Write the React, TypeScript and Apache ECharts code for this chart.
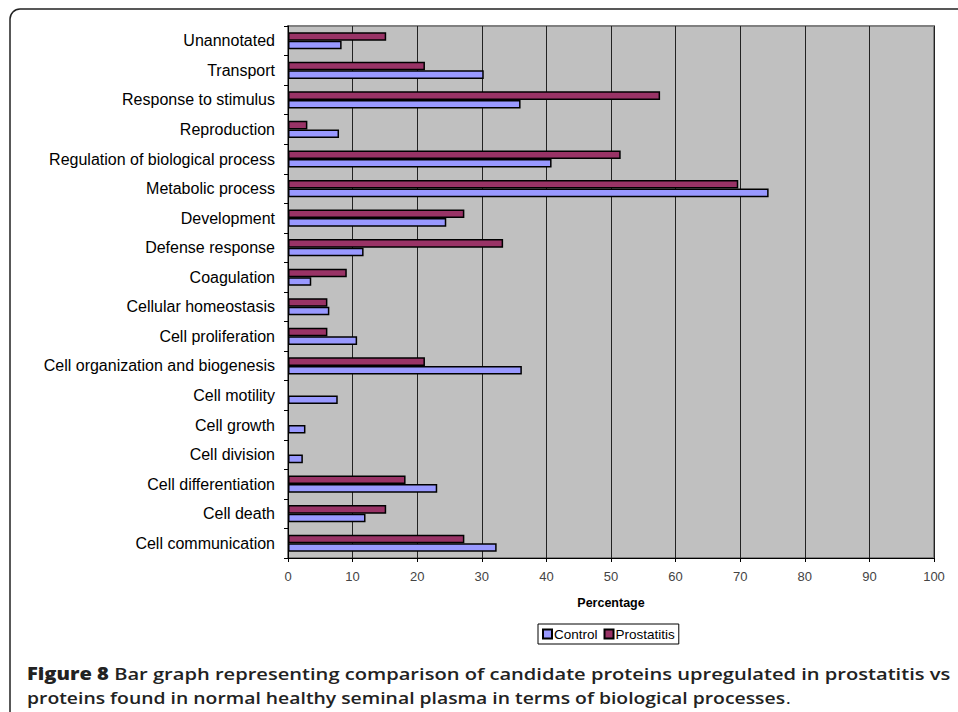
import React, { useEffect, useRef } from "react";
import * as echarts from "echarts";

const categories = [
  "Cell communication",
  "Cell death",
  "Cell differentiation",
  "Cell division",
  "Cell growth",
  "Cell motility",
  "Cell organization and biogenesis",
  "Cell proliferation",
  "Cellular homeostasis",
  "Coagulation",
  "Defense response",
  "Development",
  "Metabolic process",
  "Regulation of biological process",
  "Reproduction",
  "Response to stimulus",
  "Transport",
  "Unannotated",
];

const controlValues = [32.3, 12.0, 23.1, 2.3, 2.7, 7.7, 36.2, 10.7, 6.4, 3.6, 11.7, 24.5, 74.4, 40.8, 7.9, 36.0, 30.3, 8.3];
const prostatitisValues = [27.3, 15.2, 18.2, null, null, null, 21.2, 6.1, 6.1, 9.1, 33.3, 27.3, 69.7, 51.5, 3.0, 57.6, 21.2, 15.2];

const seriesNames = ["Control", "Prostatitis"];
const xTicks = { min: 0, max: 100, interval: 10 };
const axisTitle = "Percentage";
const captionBold = "Figure 8";
const captionLine1 = " Bar graph representing comparison of candidate proteins upregulated in prostatitis vs";
const captionLine2 = "proteins found in normal healthy seminal plasma in terms of biological processes";

export default function App() {
  const ref = useRef<HTMLDivElement>(null);
  useEffect(() => {
    if (!ref.current) return;
    const chart = echarts.init(ref.current, null, { renderer: "svg" });
    const font = "'Liberation Sans', Arial, sans-serif";
    const capFont = "'Open Sans', sans-serif";
    chart.setOption({
      animation: false,
      backgroundColor: "#ffffff",
      grid: {
        left: 288,
        right: 24,
        top: 26,
        bottom: 154,
        show: true,
        backgroundColor: "#c0c0c0",
        borderColor: "#808080",
        borderWidth: 2,
        containLabel: false,
      },
      legend: {
        data: seriesNames,
        left: 538,
        top: 624,
        itemWidth: 9,
        itemHeight: 9,
        itemGap: 6,
        padding: [3, 4, 3, 4],
        borderColor: "#000",
        borderWidth: 1,
        icon: "rect",
        textStyle: { fontFamily: font, fontSize: 13.5, color: "#000", padding: [0, 0, 0, -3] },
      },
      xAxis: {
        type: "value",
        min: xTicks.min,
        max: xTicks.max,
        interval: xTicks.interval,
        name: axisTitle,
        nameLocation: "middle",
        nameGap: 38,
        nameTextStyle: { fontFamily: font, fontSize: 12.5, fontWeight: "bold", color: "#000" },
        axisLine: { show: true, lineStyle: { color: "#000", width: 1 } },
        axisTick: { show: true, length: 4, lineStyle: { color: "#000" } },
        axisLabel: { fontFamily: font, fontSize: 13, color: "#444", margin: 12 },
        splitLine: { show: true, lineStyle: { color: "#222", width: 1 } },
      },
      yAxis: {
        type: "category",
        data: categories,
        axisLine: { show: true, lineStyle: { color: "#000", width: 1 } },
        axisTick: { show: true, length: 4, lineStyle: { color: "#000" } },
        axisLabel: { fontFamily: font, fontSize: 16, color: "#000", margin: 13 },
        splitLine: { show: false },
      },
      series: [
        {
          name: seriesNames[1],
          type: "bar",
          data: prostatitisValues,
          barGap: "0%",
          barCategoryGap: "42%",
          itemStyle: { color: "#993366", borderColor: "#000", borderWidth: 1.5 },
        },
        {
          name: seriesNames[0],
          type: "bar",
          data: controlValues,
          barGap: "0%",
          barCategoryGap: "42%",
          itemStyle: { color: "#9999ff", borderColor: "#000", borderWidth: 1.5 },
        },
      ],
      graphic: [
        {
          type: "rect",
          shape: { x: 10, y: 9, width: 980, height: 740, r: [10, 0, 0, 0] },
          style: { fill: "none", stroke: "#222", lineWidth: 1.5 },
          silent: true,
          z: 100,
        },
        {
          type: "text",
          x: 27,
          y: 673,
          scaleX: 1.183,
          style: {
            text: "{b|" + captionBold + "}{n|" + captionLine1 + "}",
            verticalAlign: "middle",
            rich: {
              b: { fontFamily: capFont, fontSize: 17, fontWeight: 800, fill: "#222" },
              n: { fontFamily: capFont, fontSize: 17, fontWeight: 600, fill: "#222" },
            },
          },
        },
        {
          type: "text",
          x: 27,
          y: 697,
          scaleX: 1.139,
          style: {
            text: "{n|" + captionLine2 + "}{p|.}",
            verticalAlign: "middle",
            rich: {
              n: { fontFamily: capFont, fontSize: 17, fontWeight: 600, fill: "#222" },
              p: { fontFamily: capFont, fontSize: 17, fontWeight: 400, fill: "#222" },
            },
          },
        },
      ],
    });
    return () => chart.dispose();
  }, []);
  return (
    <div
      ref={ref}
      style={{ position: "absolute", left: 0, top: 0, width: 958, height: 712 }}
    />
  );
}
